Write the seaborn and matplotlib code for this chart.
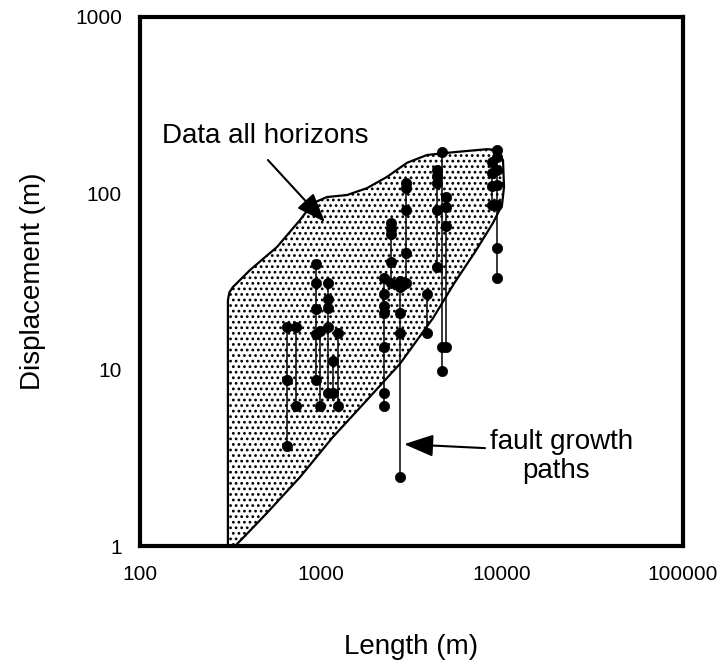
import numpy as np
import pandas as pd
import matplotlib
matplotlib.use('Agg')
import matplotlib.pyplot as plt
import seaborn as sns

# fault growth paths: one length per fault, displacement at each horizon
path_length = [649, 728, 938, 986, 1094, 1165, 1241, 2229, 2438, 2730,
               2952, 3855, 4375, 4665, 4911, 8810, 9378]
path_disp = [
    [17.5, 8.7, 3.7],
    [17.5, 6.2],
    [40, 31, 22, 16, 8.7],
    [16.5, 6.2],
    [31, 25, 22.5, 17.5, 7.4],
    [11.2, 7.4],
    [16.2, 6.2],
    [33, 27, 23, 21, 13.4, 7.4, 6.2],
    [68, 63, 59, 41, 31],
    [32, 29.5, 21, 16.2, 2.45],
    [114, 107, 80, 46, 31],
    [27, 16.2],
    [136, 125, 114, 80, 38],
    [171, 13.4, 9.8],
    [95, 84, 65, 13.4],
    [150, 130, 110, 86],
    [175, 160, 136, 112, 86, 49, 33],
]

# outline of the field covered by data from all horizons
env_length = [306, 306, 312, 326, 405, 571, 766, 903, 1080, 1392, 1795, 2316,
              2987, 3852, 5363, 8262, 9505, 10130, 10260, 10000, 8913, 7096,
              5497, 4158, 2731, 1795, 1164, 766, 503, 380, 335]
env_disp = [1, 24.8, 27.5, 29.4, 36.7, 49.6, 70.6, 88.1, 95.3, 97.8, 107, 124,
            149, 165, 171, 178, 176, 154, 108.6, 85.9, 67.9, 46.5,
            31.4, 19.6, 10.8, 6.73, 4.15, 2.46, 1.54, 1.14, 1]

x_ticks = [100, 1000, 10000, 100000]
x_labels = ['100', '1000', '10000', '100000']
y_ticks = [1, 10, 100, 1000]
y_labels = ['1', '10', '100', '1000']

rows = []
for i, (L, ds) in enumerate(zip(path_length, path_disp)):
    for d in ds:
        rows.append((i, L, d))
df = pd.DataFrame(rows, columns=['path', 'length', 'disp'])

sns.set_theme(style='white')
plt.rcParams['font.family'] = ['Liberation Sans', 'DejaVu Sans']
plt.rcParams['hatch.linewidth'] = 1.2

fig = plt.figure(figsize=(7.21, 6.66), dpi=100)
ax = fig.add_axes([140/721, 120/666, 543/721, 529/666])
ax.set(xscale='log', yscale='log')

# stippled envelope
ax.fill(env_length, env_disp, facecolor='white', edgecolor='black',
        hatch='...', lw=1.6, zorder=1)

sns.lineplot(data=df, x='length', y='disp', units='path', estimator=None,
             sort=False, color='black', lw=1.1, ax=ax, zorder=2)
sns.scatterplot(data=df, x='length', y='disp', color='black', s=55,
                edgecolor='black', linewidth=0.5, ax=ax, zorder=3)

ax.set_xlim(100, 100000)
ax.set_ylim(1, 1000)
ax.set_xticks(x_ticks, x_labels)
ax.set_yticks(y_ticks, y_labels)
ax.minorticks_off()
ax.tick_params(axis='both', which='major', direction='out', length=6,
               width=2.5, color='black', labelsize=15, labelcolor='black')
ax.tick_params(axis='x', pad=8)
ax.tick_params(axis='y', pad=7)
for s in ax.spines.values():
    s.set_linewidth(3)
    s.set_color('black')

ax.set_xlabel('Length (m)', fontsize=20, labelpad=36, color='black')
ax.set_ylabel('Displacement (m)', fontsize=20, labelpad=21, color='black')

# annotations
arrow = dict(arrowstyle='-|>,head_length=0.9,head_width=0.34',
             mutation_scale=20, color='black', lw=1.5, shrinkA=0, shrinkB=0)
ax.annotate('', xy=(1052, 68.7), xytext=(509, 154.5), arrowprops=arrow)
ax.annotate('', xy=(2877, 3.78), xytext=(8054, 3.59), arrowprops=arrow)
ax.text(491, 192.7, 'Data all horizons', ha='center', va='baseline',
        fontsize=20, color='black')
ax.text(21430, 3.55, 'fault growth', ha='center', va='baseline',
        fontsize=20, color='black')
ax.text(19860, 2.43, 'paths', ha='center', va='baseline',
        fontsize=20, color='black')

fig.savefig('out.png', dpi=100, facecolor='white')
